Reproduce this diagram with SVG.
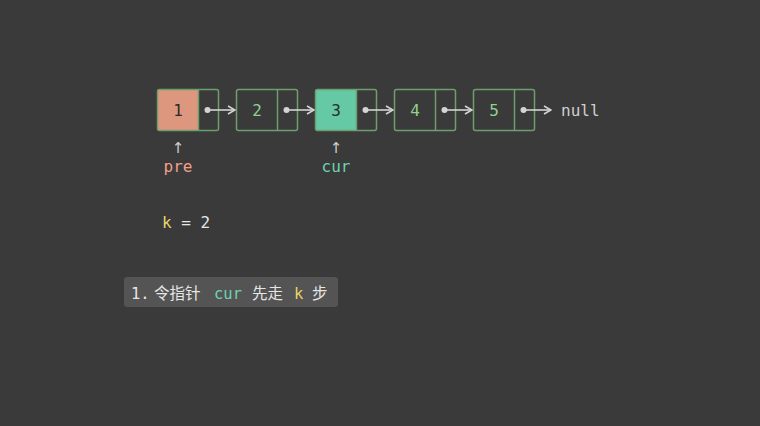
<svg xmlns="http://www.w3.org/2000/svg" width="760" height="426" viewBox="0 0 760 426">
  <style>
    .box { fill: none; stroke: #6e9e6e; stroke-width: 1.5; }
    .val { font-family: "DejaVu Sans Mono", monospace; font-size: 16px; text-anchor: middle; fill: #8fd18f; }
    .dark { fill: #2b2b2b; }
    .link { stroke: #d4d4d4; stroke-width: 1.6; fill: none; }
    .dot { fill: #d4d4d4; }
    .mono { font-family: "DejaVu Sans Mono", monospace; font-size: 16px; }
    .up { font-family: "DejaVu Sans", sans-serif; font-size: 15px; text-anchor: middle; fill: #d0d0d0; }
    .cjk { font-family: "DejaVu Sans Mono", "Noto Sans CJK SC", sans-serif; font-size: 15.5px; fill: #e6e6e6; }
  </style>
  <defs>
    <marker id="head" viewBox="0 0 10 10" refX="9" refY="5" markerWidth="10" markerHeight="10" markerUnits="userSpaceOnUse" orient="auto">
      <path d="M2,1 L9,5 L2,9" fill="none" stroke="#d4d4d4" stroke-width="1.6"/>
    </marker>
  </defs>
  <rect width="760" height="426" fill="#3a3a3a"/>

  <g id="node1">
    <rect x="157.5" y="89.5" width="41" height="41" rx="2" fill="#de977f"/>
    <rect class="box" x="157.5" y="89.5" width="61" height="41" rx="2"/>
    <line class="box" x1="198.5" y1="89.5" x2="198.5" y2="130.5"/>
    <text class="val dark" x="178" y="116">1</text>
  </g>
  <g id="node2">
    <rect class="box" x="236.5" y="89.5" width="61" height="41" rx="2"/>
    <line class="box" x1="277.5" y1="89.5" x2="277.5" y2="130.5"/>
    <text class="val" x="257" y="116">2</text>
  </g>
  <g id="node3">
    <rect x="315.5" y="89.5" width="41" height="41" rx="2" fill="#66c9a6"/>
    <rect class="box" x="315.5" y="89.5" width="61" height="41" rx="2"/>
    <line class="box" x1="356.5" y1="89.5" x2="356.5" y2="130.5"/>
    <text class="val dark" x="336" y="116">3</text>
  </g>
  <g id="node4">
    <rect class="box" x="394.5" y="89.5" width="61" height="41" rx="2"/>
    <line class="box" x1="435.5" y1="89.5" x2="435.5" y2="130.5"/>
    <text class="val" x="415" y="116">4</text>
  </g>
  <g id="node5">
    <rect class="box" x="473.5" y="89.5" width="61" height="41" rx="2"/>
    <line class="box" x1="514.5" y1="89.5" x2="514.5" y2="130.5"/>
    <text class="val" x="494" y="116">5</text>
  </g>
  <g id="null">
    <text class="mono" x="561" y="115.5" fill="#cfcfcf">null</text>
  </g>

  <g id="connectors">
    <circle class="dot" cx="207.5" cy="110" r="3"/>
    <line class="link" x1="207.5" y1="110" x2="235" y2="110" marker-end="url(#head)"/>
    <circle class="dot" cx="286.5" cy="110" r="3"/>
    <line class="link" x1="286.5" y1="110" x2="314" y2="110" marker-end="url(#head)"/>
    <circle class="dot" cx="365.5" cy="110" r="3"/>
    <line class="link" x1="365.5" y1="110" x2="393" y2="110" marker-end="url(#head)"/>
    <circle class="dot" cx="444.5" cy="110" r="3"/>
    <line class="link" x1="444.5" y1="110" x2="472" y2="110" marker-end="url(#head)"/>
    <circle class="dot" cx="523.5" cy="110" r="3"/>
    <line class="link" x1="523.5" y1="110" x2="551" y2="110" marker-end="url(#head)"/>
  </g>

  <g id="pre">
    <text class="up" x="178" y="153">↑</text>
    <text class="mono" x="178" y="172" text-anchor="middle" fill="#f0a08a">pre</text>
  </g>
  <g id="cur">
    <text class="up" x="336" y="153">↑</text>
    <text class="mono" x="336" y="172" text-anchor="middle" fill="#6ed3b0">cur</text>
  </g>

  <g id="k">
    <text class="mono" x="162" y="227.5" fill="#e6e6e6"><tspan fill="#e8d66a">k</tspan> = 2</text>
  </g>

  <g id="caption">
    <rect x="124" y="277" width="214" height="30" rx="3" fill="#545454"/>
    <text class="cjk" y="299">
      <tspan x="131">1.</tspan>
      <tspan x="154">令指针</tspan>
      <tspan x="214" fill="#6ed3b0">cur</tspan>
      <tspan x="252">先走</tspan>
      <tspan x="294" fill="#e8d66a">k</tspan>
      <tspan x="312">步</tspan>
    </text>
  </g>
</svg>
